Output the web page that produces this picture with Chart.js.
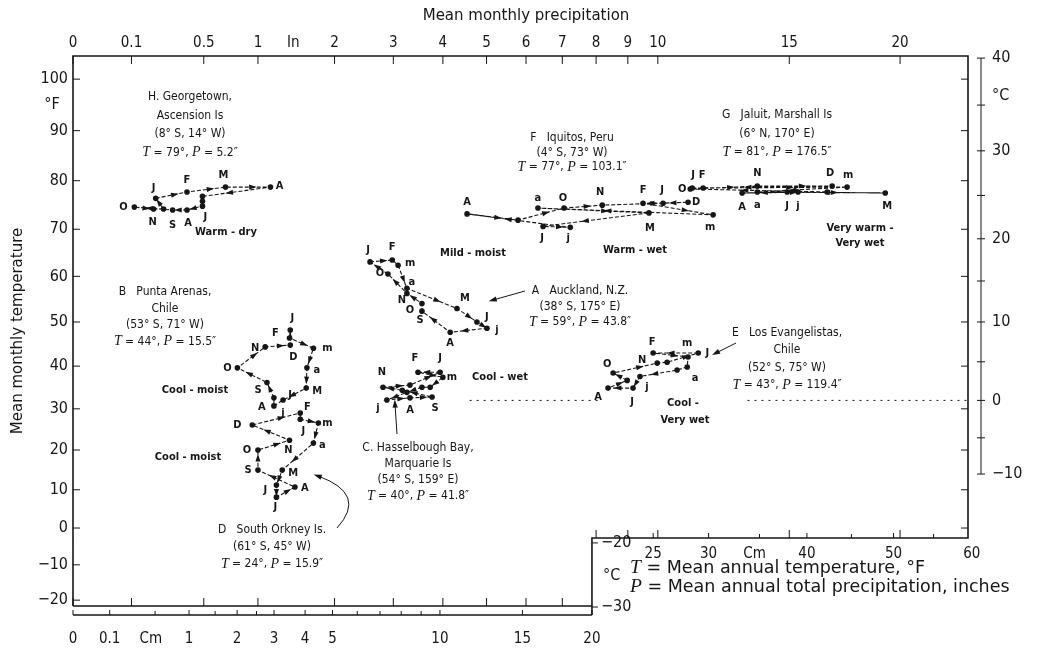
<!DOCTYPE html>
<html>
<head>
<meta charset="utf-8">
<title>Climographs</title>
<script src="https://cdn.jsdelivr.net/npm/chart.js@4.4.1/dist/chart.umd.min.js"></script>
<style>
  html, body { margin: 0; padding: 0; background: #fff; }
  canvas { display: block; }
</style>
</head>
<body>
<canvas id="climograph" width="1038" height="663"></canvas>
<script>
// monthly means, January..December: precipitation in inches, temperature in °F

// H. Georgetown, Ascension Is
const georgetownPrecip = [0.20, 0.38, 0.68, 1.14, 0.49, 0.49, 0.49, 0.38, 0.29, 0.11, 0.19, 0.24];
const georgetownTemp = [76.4, 77.7, 78.7, 78.7, 76.8, 75.8, 74.8, 74.0, 74.0, 74.6, 74.2, 74.2];

// F. Iquitos, Peru
const iquitosPrecip = [10.18, 9.50, 11.98, 6.32, 9.70, 6.46, 7.23, 4.54, 5.79, 7.05, 8.19, 11.06];
const iquitosTemp = [75.4, 75.4, 73.0, 74.4, 73.4, 70.6, 70.4, 73.2, 71.9, 74.4, 75.0, 75.6];

// G. Jaluit, Marshall Is
const jaluitPrecip = [11.21, 11.61, 17.52, 13.69, 19.29, 14.91, 15.37, 13.09, 16.63, 11.14, 13.69, 16.85];
const jaluitTemp = [78.5, 78.5, 78.7, 77.7, 77.5, 77.7, 77.7, 77.5, 77.7, 78.3, 78.9, 78.9];

// A. Auckland, N.Z.
const aucklandPrecip = [2.58, 2.98, 3.09, 3.26, 4.31, 4.77, 5.01, 4.16, 3.56, 3.56, 3.26, 2.90];
const aucklandTemp = [63.1, 63.5, 62.4, 57.4, 53.0, 50.0, 48.6, 47.7, 52.4, 54.1, 56.3, 60.5];

// B. Punta Arenas, Chile
const puntaArenasPrecip = [1.38, 1.37, 1.69, 1.60, 1.59, 1.29, 1.18, 1.18, 1.10, 0.79, 1.08, 1.38];
const puntaArenasTemp = [48.2, 46.4, 44.1, 39.6, 34.9, 32.1, 30.7, 32.6, 36.2, 39.6, 44.4, 44.8];

// D. South Orkney Is.
const southOrkneyPrecip = [1.51, 1.51, 1.76, 1.69, 1.28, 1.21, 1.21, 1.44, 1.00, 1.00, 1.37, 0.94];
const southOrkneyTemp = [29.0, 27.5, 26.6, 21.7, 15.0, 11.2, 8.1, 10.7, 15.0, 20.0, 22.4, 26.1];

// C. Hasselbough Bay, Macquarie Is
const hasselboughPrecip = [3.94, 3.48, 4.00, 3.73, 3.56, 3.26, 2.88, 3.32, 3.77, 3.17, 2.81, 3.32];
const hasselboughTemp = [38.6, 38.6, 37.4, 35.1, 35.1, 33.9, 32.1, 32.6, 32.8, 34.4, 35.1, 35.6];

// E. Los Evangelistas, Chile
const evangelistasPrecip = [11.43, 9.84, 11.06, 11.03, 10.67, 9.40, 9.17, 8.37, 8.98, 8.53, 9.98, 10.32];
const evangelistasTemp = [43.0, 43.0, 42.1, 39.8, 39.1, 37.6, 34.9, 34.9, 36.7, 38.4, 40.7, 40.9];

// month letters as printed next to the points ("" = not labelled)
const georgetownLetters = ["J", "F", "M", "A", "", "", "J", "A", "S", "O", "N", ""];
const iquitosLetters = ["J", "F", "m", "a", "M", "J", "j", "A", "", "O", "N", "D"];
const jaluitLetters = ["J", "F", "m", "a", "M", "J", "j", "A", "", "O", "N", "D"];
const aucklandLetters = ["J", "F", "m", "a", "M", "J", "j", "A", "S", "O", "N", "O"];
const puntaArenasLetters = ["J", "F", "m", "a", "M", "J", "j", "A", "S", "O", "N", "D"];
const southOrkneyLetters = ["J", "F", "m", "a", "M", "J", "J", "A", "S", "O", "N", "D"];
const hasselboughLetters = ["J", "F", "m", "", "", "", "j", "A", "S", "", "N", ""];
const evangelistasLetters = ["J", "F", "m", "a", "", "j", "J", "A", "", "O", "N", ""];

// axis ticks
const precipTicksIn = [0, 0.1, 0.5, 1, 2, 3, 4, 5, 6, 7, 8, 9, 10, 15, 20];
const precipTicksCm = [0, 0.1, 1, 2, 3, 4, 5, 10, 15, 20, 25, 30, 40, 50, 60];
const precipMinorCm = [0.5, 1.5, 2.5, 6, 7, 8, 9, 35, 45, 55];
const tempTicksF = [100, 90, 80, 70, 60, 50, 40, 30, 20, 10, 0, -10, -20];
const tempTicksC = [40, 30, 20, 10, 0, -10, -20, -30];

// ---- layout / style ------------------------------------------------------
const INK = "#161616";
const FONT = '"DejaVu Sans Condensed", "Liberation Sans Narrow", "DejaVu Sans", sans-serif';
const WIDE = '"DejaVu Sans", "Liberation Sans", sans-serif';
const SERIF = '"Liberation Serif", "DejaVu Serif", serif';

// where the month letters sit relative to their point, px
const georgetownOffsets = [[-2, -10], [0, -12], [-2, -12], [9, -1], [0, 0], [0, 0], [3, 11], [1, 13], [0, 15], [-11, 0], [-1, 13], [0, 0]];
const iquitosOffsets = [[-1, -13], [0, -13], [-3, 12], [0, -10], [1, 15], [-1, 12], [-2, 11], [0, -12], [0, 0], [-1, -10], [-2, -13], [8, 0]];
const jaluitOffsets = [[1, -13], [-1, -13], [1, -12], [0, 13], [2, 13], [0, 14], [0, 14], [0, 14], [0, 0], [-8, 0], [0, -13], [-2, -13]];
const aucklandOffsets = [[-2, -12], [0, -13], [12, -2], [5, -6], [8, -10], [10, -5], [10, 2], [0, 11], [-2, 9], [-12, 7], [-5, 7], [-8, -1]];
const puntaArenasOffsets = [[2, -12], [-14, -5], [14, 0], [10, 2], [11, 3], [7, -5], [9, 7], [-12, 9], [-9, 8], [-10, 0], [-10, 1], [3, 12]];
const southOrkneyOffsets = [[3, 18], [7, -12], [9, 0], [9, 2], [11, 3], [-11, 5], [-1, 10], [10, 1], [-10, 0], [-11, 0], [-1, 10], [-15, 0]];
const hasselboughOffsets = [[0, -14], [-3, -14], [9, 0], [0, 0], [0, 0], [0, 0], [-9, 8], [0, 12], [3, 11], [0, 0], [-1, -15], [0, 0]];
const evangelistasOffsets = [[9, 0], [-1, -11], [-1, -14], [8, 11], [0, 0], [7, 11], [-1, 14], [-10, 9], [0, 0], [-6, -9], [-15, -3], [0, 0]];

const stations = [
  { precip: georgetownPrecip, temp: georgetownTemp, letters: georgetownLetters, offsets: georgetownOffsets },
  { precip: iquitosPrecip, temp: iquitosTemp, letters: iquitosLetters, offsets: iquitosOffsets },
  { precip: jaluitPrecip, temp: jaluitTemp, letters: jaluitLetters, offsets: jaluitOffsets },
  { precip: aucklandPrecip, temp: aucklandTemp, letters: aucklandLetters, offsets: aucklandOffsets },
  { precip: puntaArenasPrecip, temp: puntaArenasTemp, letters: puntaArenasLetters, offsets: puntaArenasOffsets },
  { precip: southOrkneyPrecip, temp: southOrkneyTemp, letters: southOrkneyLetters, offsets: southOrkneyOffsets },
  { precip: hasselboughPrecip, temp: hasselboughTemp, letters: hasselboughLetters, offsets: hasselboughOffsets },
  { precip: evangelistasPrecip, temp: evangelistasTemp, letters: evangelistasLetters, offsets: evangelistasOffsets },
];

// station captions: lines, centre x, first line y, line height
const notes = [
  { lines: ["H. Georgetown,", "Ascension Is", "(8° S, 14° W)", "T = 79°, P = 5.2″"], x: 190, y: 97, lh: 18.5 },
  { lines: ["F   Iquitos, Peru", "(4° S, 73° W)", "T = 77°, P = 103.1″"], x: 572, y: 138, lh: 14.5 },
  { lines: ["G   Jaluit, Marshall Is", "(6° N, 170° E)", "T = 81°, P = 176.5″"], x: 777, y: 115, lh: 18.5 },
  { lines: ["A   Auckland, N.Z.", "(38° S, 175° E)", "T = 59°, P = 43.8″"], x: 580, y: 291, lh: 15.5 },
  { lines: ["B   Punta Arenas,", "Chile", "(53° S, 71° W)", "T = 44°, P = 15.5″"], x: 165, y: 292, lh: 16.5 },
  { lines: ["C. Hasselbough Bay,", "Marquarie Is", "(54° S, 159° E)", "T = 40°, P = 41.8″"], x: 418, y: 448, lh: 16 },
  { lines: ["D   South Orkney Is.", "(61° S, 45° W)", "T = 24°, P = 15.9″"], x: 272, y: 530, lh: 17 },
  { lines: ["E   Los Evangelistas,", "Chile", "(52° S, 75° W)", "T = 43°, P = 119.4″"], x: 787, y: 333, lh: 17.3 },
];

const regionLabels = [
  ["Warm - dry", 226, 232], ["Warm - wet", 635, 250], ["Very warm -", 860, 228], ["Very wet", 860, 243],
  ["Mild - moist", 473, 253], ["Cool - moist", 195, 390], ["Cool - moist", 188, 457],
  ["Cool - wet", 500, 377], ["Cool -", 683, 403], ["Very wet", 685, 420],
];

// leader arrows from captions to their clusters
const pointers = [
  { from: [525, 291], to: [493, 300] },
  { from: [736, 343], to: [716, 353] },
  { from: [397, 434], to: [395, 404] },
  { from: [337, 528], via: [368, 494], to: [318, 476] },
];

// ---- scales ---------------------------------------------------------------
// precipitation axis is printed on a square-root scale
class SqrtScale extends Chart.LinearScale {
  getPixelForValue(value) {
    const lo = Math.sqrt(this.min), hi = Math.sqrt(this.max);
    return this.getPixelForDecimal((Math.sqrt(Math.max(value, 0)) - lo) / (hi - lo));
  }
  getValueForPixel(pixel) {
    const lo = Math.sqrt(this.min), hi = Math.sqrt(this.max);
    const s = lo + this.getDecimalForPixel(pixel) * (hi - lo);
    return s * s;
  }
}
SqrtScale.id = "sqrt";
SqrtScale.defaults = Chart.LinearScale.defaults;

// temperature axis of the printed page is stretched towards the top
const TEMP_WARP = 0.2128;
class WarpScale extends Chart.LinearScale {
  getPixelForValue(value) {
    const d = (value - this.min) / (this.max - this.min);
    return this.getPixelForDecimal(d + TEMP_WARP * (d * d - d));
  }
  getValueForPixel(pixel) {
    const c = TEMP_WARP, w = this.getDecimalForPixel(pixel);
    const d = (-(1 - c) + Math.sqrt((1 - c) * (1 - c) + 4 * c * w)) / (2 * c);
    return this.min + d * (this.max - this.min);
  }
}
WarpScale.id = "warped";
WarpScale.defaults = Chart.LinearScale.defaults;

Chart.register(SqrtScale, WarpScale);

// ---- drawing helpers -----------------------------------------------------
function signed(v) {
  return v < 0 ? "\u2212" + Math.abs(v) : String(v);
}

function drawRich(ctx, s, x, y, size, align, family) {
  // T and P are set in italic serif, as in the print
  const fam = family || FONT;
  const parts = s.split(/([TP])(?= =)/).filter(Boolean);
  const fonts = parts.map((p) => (p === "T" || p === "P") ? `italic ${size + 2}px ${SERIF}` : `${size}px ${fam}`);
  let w = 0;
  parts.forEach((p, i) => { ctx.font = fonts[i]; w += ctx.measureText(p).width; });
  let cx = align === "left" ? x : x - w / 2;
  ctx.textAlign = "left";
  parts.forEach((p, i) => {
    ctx.font = fonts[i];
    ctx.fillText(p, cx, y);
    cx += ctx.measureText(p).width;
  });
}

function arrowHead(ctx, x, y, angle, size) {
  ctx.beginPath();
  ctx.moveTo(x + Math.cos(angle) * size, y + Math.sin(angle) * size);
  ctx.lineTo(x + Math.cos(angle + 2.5) * size, y + Math.sin(angle + 2.5) * size);
  ctx.lineTo(x + Math.cos(angle - 2.5) * size, y + Math.sin(angle - 2.5) * size);
  ctx.closePath();
  ctx.fill();
}

const frame = {
  id: "frame",
  beforeDatasetsDraw(chart) {
    const { ctx, chartArea: a } = chart;
    const x = chart.scales.x, y = chart.scales.y;
    const cmX = (cm) => x.getPixelForValue(cm / 2.54);
    const cY = (c) => y.getPixelForValue(c * 9 / 5 + 32);
    const stepX = cmX(20);
    const stepY = a.bottom - 68;
    const cmLine = a.bottom + 9;
    const seg = (x1, y1, x2, y2) => { ctx.beginPath(); ctx.moveTo(x1, y1); ctx.lineTo(x2, y2); ctx.stroke(); };

    ctx.save();
    ctx.strokeStyle = INK;
    ctx.fillStyle = INK;
    ctx.textBaseline = "middle";

    // outline, with the notch at the lower right
    ctx.lineWidth = 1.6;
    ctx.beginPath();
    ctx.moveTo(a.left, a.bottom);
    ctx.lineTo(a.left, a.top);
    ctx.lineTo(a.right, a.top);
    ctx.lineTo(a.right, stepY);
    ctx.lineTo(stepX, stepY);
    ctx.lineTo(stepX, cmLine);
    ctx.moveTo(stepX, a.bottom);
    ctx.lineTo(a.left, a.bottom);
    ctx.moveTo(a.left, cmLine);
    ctx.lineTo(stepX, cmLine);
    ctx.stroke();
    ctx.lineWidth = 1;

    // inches along the top, repeated on the bottom edges
    ctx.font = `15px ${FONT}`;
    ctx.textAlign = "center";
    precipTicksIn.forEach((v) => {
      const px = x.getPixelForValue(v);
      seg(px, a.top, px, a.top + 8);
      ctx.fillText(String(v), px, a.top - 13);
      if (px <= stepX) seg(px, a.bottom, px, a.bottom - 8);
      else seg(px, stepY, px, stepY - 8);
    });
    ctx.fillText("In", x.getPixelForValue(1.42), a.top - 13);
    ctx.font = `15px ${WIDE}`;
    ctx.fillText("Mean monthly precipitation", 526, 16);

    // centimetres
    ctx.font = `15px ${FONT}`;
    precipTicksCm.forEach((cm) => {
      const px = cmX(cm);
      if (cm <= 20) {
        seg(px, cmLine, px, cmLine - 5);
        ctx.fillText(String(cm), px, a.bottom + 33);
      } else {
        if (px < a.right) seg(px, stepY, px, stepY - 5);
        ctx.fillText(String(cm), px, stepY + 16);
      }
    });
    precipMinorCm.forEach((cm) => {
      const px = cmX(cm);
      if (cm <= 20) seg(px, cmLine, px, cmLine - 4);
      else seg(px, stepY, px, stepY - 4);
    });
    ctx.fillText("Cm", cmX(0.45), a.bottom + 33);
    ctx.fillText("Cm", cmX(34.5), stepY + 16);

    // °F on the left
    ctx.font = `16px ${FONT}`;
    ctx.textAlign = "right";
    tempTicksF.forEach((f) => {
      const py = y.getPixelForValue(f);
      seg(a.left, py, a.left + 7, py);
      if (py < stepY) seg(a.right, py, a.right - 7, py);
      ctx.fillText(signed(f), a.left - 5, py);
    });
    ctx.textAlign = "center";
    ctx.fillText("°F", 52, y.getPixelForValue(95));

    ctx.save();
    ctx.translate(18, (a.top + a.bottom) / 2);
    ctx.rotate(-Math.PI / 2);
    ctx.font = `15px ${WIDE}`;
    ctx.fillText("Mean monthly temperature", 0, 0);
    ctx.restore();

    // °C strip on the right, and its lower part on the notch
    const cAxis = a.right + 13;
    seg(cAxis, cY(40), cAxis, cY(-10));
    for (let c = 40; c >= -10; c -= 5) seg(cAxis - 4, cY(c), cAxis + 4, cY(c));
    ctx.font = `16px ${FONT}`;
    ctx.textAlign = "left";
    tempTicksC.forEach((c) => {
      if (c >= -10) {
        ctx.fillText(signed(c), a.right + 24, cY(c));
      } else {
        seg(stepX, cY(c), stepX + 6, cY(c));
        ctx.fillText(signed(c), stepX + 9, cY(c));
      }
    });
    ctx.fillText("°C", a.right + 24, cY(36));
    ctx.fillText("°C", stepX + 11, cY(-25));

    // freezing line
    ctx.setLineDash([2, 5]);
    const zy = cY(0);
    seg(x.getPixelForValue(4.6), zy, x.getPixelForValue(8.1), zy);
    seg(x.getPixelForValue(13.3), zy, a.right, zy);
    ctx.setLineDash([]);

    // key
    drawRich(ctx, "T = Mean annual temperature, °F", 630, stepY + 30, 17.5, "left", WIDE);
    drawRich(ctx, "P = Mean annual total precipitation, inches", 630, stepY + 49, 17.5, "left", WIDE);
    ctx.restore();
  },

  afterDatasetsDraw(chart) {
    const { ctx } = chart;
    ctx.save();
    ctx.fillStyle = INK;
    ctx.strokeStyle = INK;
    ctx.textBaseline = "middle";

    // arrows along each month-to-month path
    stations.forEach((st, si) => {
      const pts = chart.getDatasetMeta(si).data;
      for (let i = 0; i < pts.length - 1; i++) {
        const p = pts[i], q = pts[i + 1];
        const dx = q.x - p.x, dy = q.y - p.y;
        if (Math.hypot(dx, dy) < 11) continue;
        arrowHead(ctx, p.x + dx * 0.6, p.y + dy * 0.6, Math.atan2(dy, dx), 4.2);
      }
      // month letters
      ctx.font = `bold 11px ${FONT}`;
      ctx.textAlign = "center";
      st.letters.forEach((m, i) => {
        if (!m) return;
        const [ox, oy] = st.offsets[i];
        ctx.fillText(m, pts[i].x + ox, pts[i].y + oy);
      });
    });

    notes.forEach((n) => {
      n.lines.forEach((line, i) => {
        if (line.startsWith("T =")) drawRich(ctx, line, n.x, n.y + i * n.lh, 12, "center");
        else {
          ctx.font = `12px ${FONT}`;
          ctx.textAlign = "center";
          ctx.fillText(line, n.x, n.y + i * n.lh);
        }
      });
    });

    ctx.font = `bold 11px ${FONT}`;
    ctx.textAlign = "center";
    regionLabels.forEach(([t, lx, ly]) => ctx.fillText(t, lx, ly));

    ctx.lineWidth = 1;
    pointers.forEach((p) => {
      ctx.beginPath();
      ctx.moveTo(p.from[0], p.from[1]);
      let ang;
      if (p.via) {
        ctx.quadraticCurveTo(p.via[0], p.via[1], p.to[0], p.to[1]);
        ang = Math.atan2(p.to[1] - p.via[1], p.to[0] - p.via[0]);
      } else {
        ctx.lineTo(p.to[0], p.to[1]);
        ang = Math.atan2(p.to[1] - p.from[1], p.to[0] - p.from[0]);
      }
      ctx.stroke();
      arrowHead(ctx, p.to[0], p.to[1], ang, 4.5);
    });
    ctx.restore();
  },
};

// one closed path per station (January repeated at the end)
const datasets = stations.map((st) => {
  const pts = st.precip.map((p, i) => ({ x: p, y: st.temp[i] }));
  pts.push(pts[0]);
  return {
    data: pts,
    showLine: true,
    borderColor: INK,
    borderWidth: 1.1,
    borderDash: [4, 2],
    backgroundColor: INK,
    pointRadius: (c) => (c.dataIndex === 12 ? 0 : 2.8),
    pointBorderWidth: 0,
  };
});

new Chart(document.getElementById("climograph"), {
  type: "scatter",
  data: { datasets: datasets },
  options: {
    responsive: false,
    animation: false,
    devicePixelRatio: 1,
    layout: { padding: { left: 73, top: 56, right: 70, bottom: 57 } },
    plugins: {
      legend: { display: false },
      tooltip: { enabled: false },
    },
    scales: {
      x: { type: "sqrt", min: 0, max: 23.42, bounds: "data", display: false },
      y: { type: "warped", min: -21.7, max: 104.4, bounds: "data", display: false },
    },
  },
  plugins: [frame],
});
</script>
</body>
</html>
